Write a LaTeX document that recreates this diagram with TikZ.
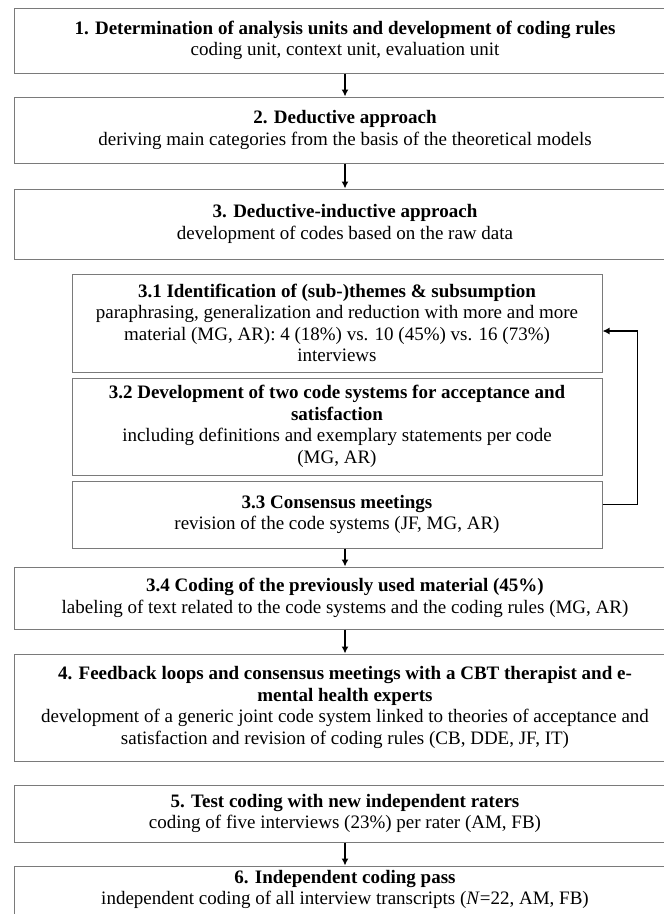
\documentclass[tikz,border=0pt]{standalone}
\usepackage{fontspec}
\setmainfont{Liberation Serif}
\usepackage{tikz}
\usetikzlibrary{arrows.meta,calc,positioning}
\definecolor{FlowGray}{HTML}{7A7A7A}

\begin{document}
\begin{tikzpicture}[
    x=1pt,y=1pt,
    stage/.style={draw=FlowGray,line width=1pt,fill=white,inner sep=0pt,
      minimum width=662pt,align=center,font=\fontsize{19}{21.5}\selectfont},
    substage/.style={stage,minimum width=530pt},
    arrow/.style={-{Latex[length=7pt,width=7pt]},line width=1.6pt,color=black}
  ]
    \path[use as bounding box] (0,0) rectangle (664,-914);
    \clip (0,0) rectangle (664,-914);
    \node[stage,minimum height=65pt] (det) at (345,-40.5)
      {\textbf{1. Determination of analysis units and development of coding rules}\\coding unit, context unit, evaluation unit};
    \node[stage,minimum height=66pt,below=23pt of det] (deductive)
      {\textbf{2. Deductive approach}\\deriving main categories from the basis of the theoretical models};
    \node[stage,minimum height=70pt,below=25pt of deductive] (inductive)
      {\textbf{3. Deductive-inductive approach}\\development of codes based on the raw data};
    \node[substage,minimum height=98pt,below=14pt of inductive,xshift=-8pt] (themes)
      {\textbf{3.1 Identification of (sub-)themes \& subsumption}\\paraphrasing, generalization and reduction with more and more\\material (MG, AR): 4 (18\%) vs. 10 (45\%) vs. 16 (73\%)\\interviews};
    \node[substage,minimum height=97pt,below=5pt of themes] (codesys)
      {\textbf{3.2 Development of two code systems for acceptance and}\\\textbf{satisfaction}\\including definitions and exemplary statements per code\\(MG, AR)};
    \node[substage,minimum height=67pt,below=5pt of codesys] (consensus)
      {\textbf{3.3 Consensus meetings}\\revision of the code systems (JF, MG, AR)};
    \node[stage,minimum height=62pt,below=18pt of consensus,xshift=8pt] (material)
      {\textbf{3.4 Coding of the previously used material (45\%)}\\labeling of text related to the code systems and the coding rules (MG, AR)};
    \node[stage,minimum height=107pt,below=24pt of material] (feedback)
      {\textbf{4. Feedback loops and consensus meetings with a CBT therapist and e-}\\\textbf{mental health experts}\\development of a generic joint code system linked to theories of acceptance and\\satisfaction and revision of coding rules (CB, DDE, JF, IT)};
    \node[stage,minimum height=57pt,below=23pt of feedback] (test)
      {\textbf{5. Test coding with new independent raters}\\coding of five interviews (23\%) per rater (AM, FB)};
    \node[stage,minimum height=62pt,below=23pt of test,text depth=19pt] (pass)
      {\textbf{6. Independent coding pass}\\independent coding of all interview transcripts (\textit{N}=22, AM, FB)};
    \draw[arrow] (det) -- (deductive);
    \draw[arrow] (deductive) -- (inductive);
    \draw[arrow] (consensus.south -| material.north) -- (material.north);
    \draw[arrow] (material) -- (feedback);
    \draw[arrow] (test) -- (pass);
    \draw[arrow] ([yshift=10pt]consensus.east) -- ++(35pt,0) |- ([yshift=-8pt]themes.east);
  \end{tikzpicture}
\end{document}
